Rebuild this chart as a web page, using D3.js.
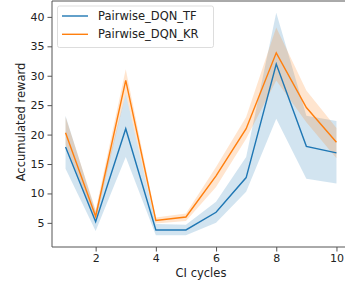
<!DOCTYPE html>
<html><head><meta charset="utf-8">
<script src="https://cdn.jsdelivr.net/npm/d3@7"></script>
<style>body{margin:0;background:#fff}svg{display:block}text{font-family:"DejaVu Sans",sans-serif;fill:#222}</style>
</head><body><svg id="c" width="345" height="289"></svg>
<script>
const cycles = [1,2,3,4,5,6,7,8,9,10];
const tfMean  = [17.9, 5.2, 21.0, 3.8, 3.8, 6.8, 12.7, 32.0, 18.0, 16.9];
const tfLow   = [14.2, 3.6, 16.2, 2.9, 2.9, 5.0, 10.3, 22.7, 12.5, 11.7];
const tfHigh  = [23.2, 6.9, 27.0, 4.8, 4.7, 8.6, 16.2, 40.7, 23.2, 22.3];
const krMean  = [20.3, 6.1, 29.2, 5.4, 6.0, 13.0, 21.0, 33.9, 24.6, 18.7];
const krLow   = [18.3, 5.3, 27.0, 4.9, 5.3, 11.1, 19.3, 29.2, 22.1, 16.0];
const krHigh  = [23.0, 7.2, 31.1, 5.9, 6.6, 14.5, 23.0, 38.2, 27.5, 21.1];
const xTicks = [2,4,6,8,10];
const yTicks = [5,10,15,20,25,30,35,40];
const seriesNames = ["Pairwise_DQN_TF","Pairwise_DQN_KR"];
const colors = ["#1f77b4","#ff7f0e"];

const svg = d3.select("#c");
const L = 52, R = 350, T = 1, B = 247;
const x = d3.scaleLinear().domain([0.55, 10.45]).range([L, R]);
const y = d3.scaleLinear().domain([0.9, 42.7]).range([B, T]);

const series = [
  {mean: tfMean, low: tfLow, high: tfHigh},
  {mean: krMean, low: krLow, high: krHigh}
];
const area = d3.area().x((d,i)=>x(cycles[i])).y0(d=>y(d[0])).y1(d=>y(d[1]));
const line = d3.line().x((d,i)=>x(cycles[i])).y(d=>y(d));

series.forEach((s,k)=>{
  svg.append("path").datum(s.low.map((v,i)=>[v,s.high[i]]))
    .attr("d", area).attr("fill", colors[k]).attr("fill-opacity", 0.2).attr("stroke","none");
});
series.forEach((s,k)=>{
  svg.append("path").datum(s.mean).attr("d", line)
    .attr("fill","none").attr("stroke", colors[k]).attr("stroke-width",1.4);
});

// spines
svg.append("path").attr("d",`M${L},${T}V${B}H${R}M${L},${T}H${R}`).attr("fill","none").attr("stroke","#555").attr("stroke-width",1);

const xa = svg.append("g").attr("transform",`translate(0,${B})`)
  .call(d3.axisBottom(x).tickValues(xTicks).tickSize(4.5).tickPadding(3).tickFormat(d3.format("d")));
const ya = svg.append("g").attr("transform",`translate(${L},0)`)
  .call(d3.axisLeft(y).tickValues(yTicks).tickSize(4.5).tickPadding(3).tickFormat(d3.format("d")));
[xa,ya].forEach(a=>{
  a.select(".domain").remove();
  a.selectAll("line").attr("stroke","#555");
  a.selectAll("text").style("font-size","11px").style("font-family","DejaVu Sans").attr("fill","#222");
});

svg.append("text").attr("x", (L+R)/2).attr("y", 277).attr("text-anchor","middle")
  .style("font-size","11.5px").text("CI cycles");
svg.append("text").attr("transform",`translate(24.5,122) rotate(-90)`).attr("text-anchor","middle")
  .style("font-size","11.5px").text("Accumulated reward");

// legend
const lg = svg.append("g");
lg.append("rect").attr("x",57.5).attr("y",6).attr("width",156).attr("height",41.5).attr("rx",2)
  .attr("fill","#fff").attr("fill-opacity",0.8).attr("stroke","#ddd");
seriesNames.forEach((n,k)=>{
  const yy = 16 + k*18.3;
  lg.append("line").attr("x1",62).attr("x2",88).attr("y1",yy).attr("y2",yy).attr("stroke",colors[k]).attr("stroke-width",1.4);
  lg.append("text").attr("x",98).attr("y",yy+4).style("font-size","11.5px").text(n);
});
</script></body></html>
